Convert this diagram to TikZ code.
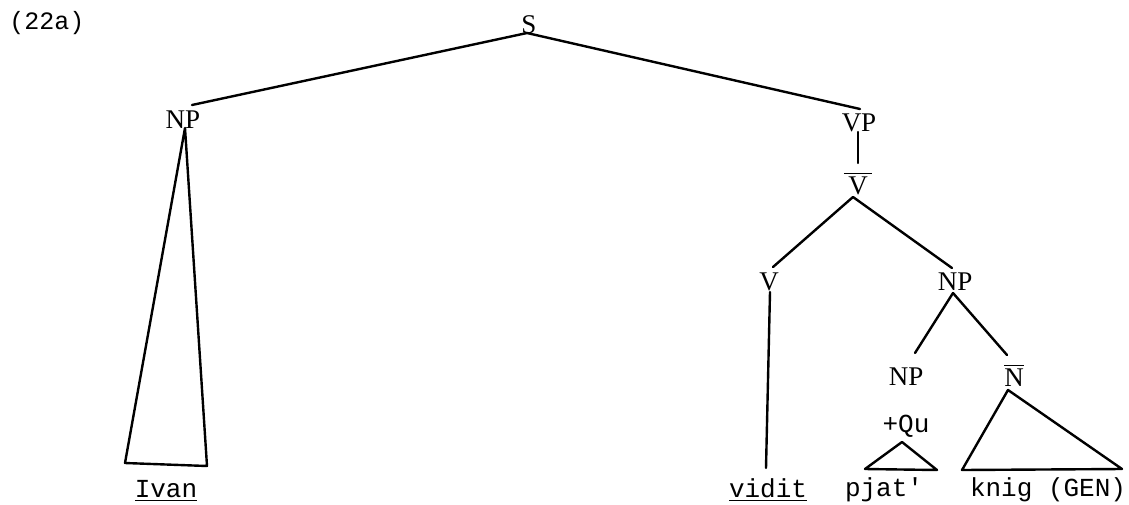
\documentclass[tikz,border=0pt]{standalone}
\usepackage{fontspec}
\setmainfont{Liberation Serif}
\newfontfamily\tw{Liberation Mono}
\begin{document}
\begin{tikzpicture}[x=0.5pt,y=-0.5pt,
  lab/.style={anchor=base,inner sep=0pt,font=\fontsize{13.5}{15}\selectfont},
  wrd/.style={anchor=base,inner sep=0pt,font=\tw\fontsize{13}{15}\selectfont},
  edge/.style={line width=1.2pt,line cap=round,line join=round}]
\useasboundingbox (0,0) rectangle (1129,504);
\node[wrd,font=\tw\fontsize{12.5}{14}\selectfont] (ex) at (47,29) {(22a)};
\node[lab] (S) at (529,33) {S};
\node[lab] (NPa) at (183,128) {NP};
\node[lab] (VP) at (859,131) {VP};
\node[lab] (Vbar) at (858,194) {$\overline{\hbox{\,V\,}}$};
\node[lab] (V) at (769,290) {V};
\node[lab] (NPb) at (955,290) {NP};
\node[lab] (NPc) at (906,385) {NP};
\node[lab] (Nbar) at (1014,386) {$\overline{\hbox{N}}$};
\node[wrd] (qu) at (906,432) {+Qu};
\node[wrd] (ivan) at (166,497) {\underline{Ivan}};
\node[wrd] (vidit) at (768,497) {\underline{vidit}};
\node[wrd] (pjat) at (884,496) {pjat'};
\node[wrd] (knig) at (1048,496) {knig (GEN)};
% connector end points
\coordinate (S-b) at (527,33);
\coordinate (NPa-t) at (192,105);
\coordinate (VP-t) at (860,109);
\coordinate (VP-b) at (858,132);
\coordinate (Vbar-t) at (858,163);
\coordinate (Vbar-b) at (853,197);
\coordinate (V-t) at (773,267);
\coordinate (NPb-t) at (952,268);
\coordinate (V-b) at (770,292);
\coordinate (vidit-t) at (766,468);
\coordinate (NPb-b) at (953,293);
\coordinate (NPc-t) at (915,353);
\coordinate (Nbar-t) at (1007,355);
\coordinate (NPa-b) at (185,128);
\coordinate (ivan-l) at (125,463);
\coordinate (ivan-r) at (207,466);
\coordinate (qu-b) at (902,442);
\coordinate (pjat-l) at (865,469);
\coordinate (pjat-r) at (937,470);
\coordinate (Nbar-b) at (1008,390);
\coordinate (knig-l) at (962,470);
\coordinate (knig-r) at (1122,469);
\draw[edge] (S-b) -- (NPa-t);
\draw[edge] (S-b) -- (VP-t);
\draw[edge] (VP-b) -- (Vbar-t);
\draw[edge] (Vbar-b) -- (V-t);
\draw[edge] (Vbar-b) -- (NPb-t);
\draw[edge] (V-b) -- (vidit-t);
\draw[edge] (NPb-b) -- (NPc-t);
\draw[edge] (NPb-b) -- (Nbar-t);
\draw[edge] (NPa-b) -- (ivan-l) -- (ivan-r) -- cycle;
\draw[edge] (qu-b) -- (pjat-l) -- (pjat-r) -- cycle;
\draw[edge] (Nbar-b) -- (knig-l) -- (knig-r) -- cycle;
\end{tikzpicture}
\end{document}
